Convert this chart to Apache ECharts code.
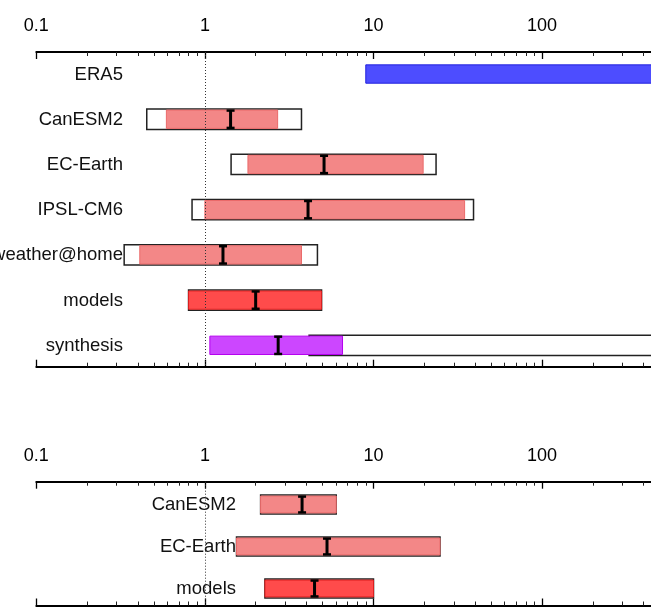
<!DOCTYPE html>
<html>
<head>
<meta charset="utf-8">
<script src="https://cdn.jsdelivr.net/npm/echarts@6/dist/echarts.min.js"></script>
<style>
  html, body { margin: 0; padding: 0; background: #fff; }
  #chart { width: 651px; height: 607px; }
</style>
</head>
<body>
<div id="chart"></div>
<script>
// upper panel: one row per dataset (null = not drawn)
var topNames   = ['ERA5', 'CanESM2', 'EC-Earth', 'IPSL-CM6', 'weather@home', 'models', 'synthesis'];
var topKinds   = ['obs', 'model', 'model', 'model', 'model', 'models', 'synthesis'];
var topLo      = [9.0, 0.591, 1.80, 1.00, 0.411, 0.80, 1.07];
var topHi      = [10000, 2.70, 19.7, 34.7, 3.74, 4.92, 6.55];
var topBoxLo   = [null, 0.452, 1.43, 0.839, 0.332, 0.80, 4.15];
var topBoxHi   = [null, 3.74, 23.5, 39.2, 4.65, 4.92, 10000];
var topBest    = [null, 1.42, 5.09, 4.09, 1.28, 2.00, 2.72];
var topLabelAt = 0.331;

// lower panel
var botNames   = ['CanESM2', 'EC-Earth', 'models'];
var botKinds   = ['model', 'model', 'models'];
var botLo      = [2.14, 1.54, 2.27];
var botHi      = [6.01, 24.8, 10.0];
var botBoxLo   = [2.14, 1.54, 2.27];
var botBoxHi   = [6.01, 24.8, 10.0];
var botBest    = [3.77, 5.30, 4.47];
var botLabelAt = 1.55;

var xMin = 0.1, xMax = 1000;

var colors = {
  obs:       { fill: '#4d4dff', line: '#2222dd' },
  model:     { fill: '#f38787', line: '#ea6a6a' },
  models:    { fill: '#ff4b4b', line: '#dd1f1f' },
  synthesis: { fill: '#cc46ff', line: '#b400ee' }
};

function rows(lo, hi, boxLo, boxHi, best) {
  return lo.map(function (v, i) {
    return [v, hi[i], boxLo[i] == null ? '-' : boxLo[i], boxHi[i] == null ? '-' : boxHi[i],
            best[i] == null ? '-' : best[i], i];
  });
}

function makeRender(names, kinds, labelAt) {
  return function (params, api) {
    var i = params.dataIndex;
    var row = api.value(5);
    var c = colors[kinds[i]];
    var h = api.size([0, 1])[1] * 0.45;
    var yc = api.coord([1, row])[1];
    var y0 = yc - h / 2;
    var kids = [];

    var bLo = api.value(2), bHi = api.value(3);
    if (!isNaN(bLo) && !isNaN(bHi)) {
      var a = api.coord([bLo, row])[0], b = api.coord([bHi, row])[0];
      kids.push({ type: 'rect', shape: { x: a, y: y0, width: b - a, height: h },
        style: { fill: '#fff', stroke: '#222', lineWidth: 1.5 } });
    }
    var x0 = api.coord([api.value(0), row])[0], x1 = api.coord([api.value(1), row])[0];
    kids.push({ type: 'rect', shape: { x: x0, y: y0 + 1, width: x1 - x0, height: h - 2 },
      style: { fill: c.fill, stroke: c.line, lineWidth: 1 } });

    var best = api.value(4);
    if (!isNaN(best)) {
      var bx = api.coord([best, row])[0];
      kids.push({ type: 'line', shape: { x1: bx, y1: y0 + 1, x2: bx, y2: y0 + h - 1 },
        style: { stroke: '#000', lineWidth: 3 } });
      kids.push({ type: 'line', shape: { x1: bx - 4, y1: y0 + 1.5, x2: bx + 4, y2: y0 + 1.5 },
        style: { stroke: '#000', lineWidth: 2.5 } });
      kids.push({ type: 'line', shape: { x1: bx - 4, y1: y0 + h - 1.5, x2: bx + 4, y2: y0 + h - 1.5 },
        style: { stroke: '#000', lineWidth: 2.5 } });
    }

    var lx = api.coord([labelAt, row])[0];
    kids.push({ type: 'text', style: { text: names[i], x: lx - 1, y: yc + 0.5, align: 'right',
      verticalAlign: 'middle', font: '18.5px "Liberation Sans", Arial, sans-serif', fill: '#111' } });

    return { type: 'group', children: kids };
  };
}

function xAxisDef(grid, pos, labels) {
  return {
    type: 'log', logBase: 10, gridIndex: grid, position: pos, min: xMin, max: xMax,
    splitNumber: 4,
    axisLine: { show: true, onZero: false, lineStyle: { color: '#000', width: 2 } },
    axisTick: { show: true, inside: true, length: 7, lineStyle: { color: '#000', width: 1.3 } },
    minorTick: { show: true, splitNumber: 9, length: 4, lineStyle: { color: '#222', width: 1 } },
    splitLine: { show: false },
    minorSplitLine: { show: false },
    axisLabel: { show: labels, margin: 17, color: '#000', fontSize: 18,
      fontFamily: '"Liberation Sans", Arial, sans-serif',
      formatter: function (v) { return String(v); } }
  };
}

function dotted(xi, yi) {
  return {
    type: 'line', xAxisIndex: xi, yAxisIndex: yi, data: [], z: 1, silent: true,
    markLine: { silent: true, symbol: 'none', label: { show: false },
      lineStyle: { color: '#333', width: 1, type: [1, 2] },
      data: [{ xAxis: 1 }] }
  };
}

var chart = echarts.init(document.getElementById('chart'));
chart.setOption({
  animation: false,
  backgroundColor: '#fff',
  grid: [
    { left: 36.3, width: 674.4, top: 52, height: 314.7, outerBoundsMode: 'none', containLabel: false },
    { left: 36.3, width: 674.4, top: 481.7, height: 123.8, outerBoundsMode: 'none', containLabel: false }
  ],
  xAxis: [
    xAxisDef(0, 'top', true),
    xAxisDef(0, 'bottom', false),
    xAxisDef(1, 'top', true),
    xAxisDef(1, 'bottom', false)
  ],
  yAxis: [
    { type: 'value', gridIndex: 0, inverse: true, min: -0.487, max: 6.473, show: false },
    { type: 'value', gridIndex: 1, inverse: true, min: -0.543, max: 2.405, show: false }
  ],
  series: [
    dotted(0, 0),
    dotted(2, 1),
    {
      type: 'custom', xAxisIndex: 0, yAxisIndex: 0, z: 3,
      encode: { x: [0, 1, 2, 3, 4], y: 5 },
      renderItem: makeRender(topNames, topKinds, topLabelAt),
      data: rows(topLo, topHi, topBoxLo, topBoxHi, topBest)
    },
    {
      type: 'custom', xAxisIndex: 2, yAxisIndex: 1, z: 3,
      encode: { x: [0, 1, 2, 3, 4], y: 5 },
      renderItem: makeRender(botNames, botKinds, botLabelAt),
      data: rows(botLo, botHi, botBoxLo, botBoxHi, botBest)
    }
  ]
});
</script>
</body>
</html>
